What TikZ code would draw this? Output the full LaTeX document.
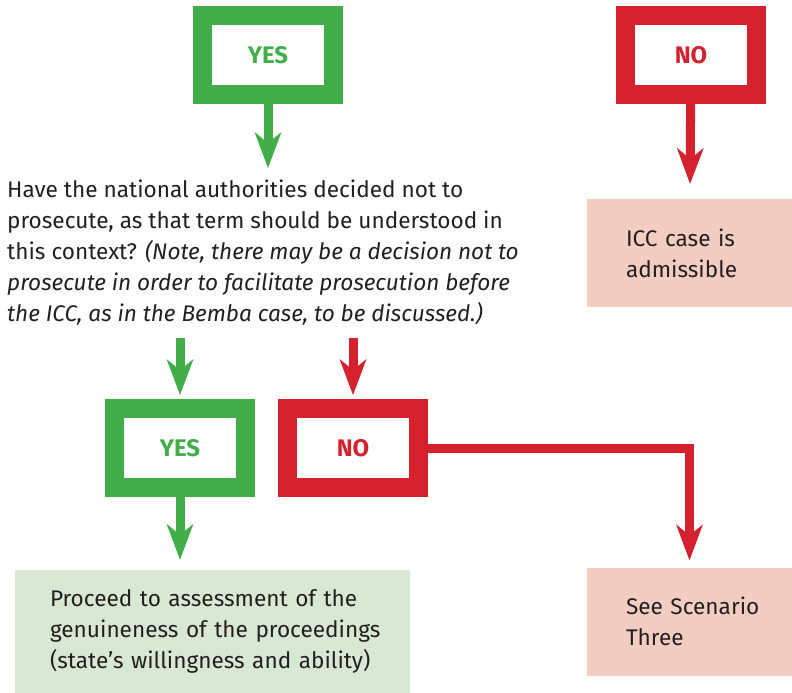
\documentclass[tikz,border=0pt]{standalone}
\usepackage{fontspec}
\setmainfont{Fira Sans}
\usetikzlibrary{arrows.meta, positioning}

\definecolor{yesgreen}{RGB}{65,174,73}
\definecolor{nored}{RGB}{213,33,46}
\definecolor{pinkbox}{RGB}{243,205,193}
\definecolor{palegreen}{RGB}{217,232,212}
\definecolor{textgray}{RGB}{35,31,32}

\begin{document}
\begin{tikzpicture}[
    x=1pt, y=-1pt,
    every node/.style={font=\fontsize{22.6}{31}\selectfont, text=textgray},
    yesbox/.style={rectangle, draw=yesgreen, fill=white, line width=19pt, minimum width=131pt, minimum height=79pt, outer sep=9.5pt, inner sep=0pt, text=yesgreen, font=\bfseries\fontsize{24}{26}\selectfont},
    nobox/.style={yesbox, draw=nored, text=nored},
    question/.style={anchor=north west, inner xsep=0pt, inner ysep=12pt, align=left},
    result/.style={rectangle, fill=pinkbox, minimum width=205pt, minimum height=108pt, inner xsep=39pt, text width=127pt, align=left},
    proceed/.style={rectangle, fill=palegreen, minimum width=395pt, minimum height=123pt, inner xsep=35pt, text width=325pt, align=left},
    yesarrow/.style={draw=yesgreen, line width=9pt, -{Stealth[length=36pt, width=27pt, inset=11pt, line width=0pt]}},
    noarrow/.style={yesarrow, draw=nored}
]
\useasboundingbox (0,0) rectangle (792,693);

% ---------- nodes ----------
% top row
\node[yesbox] (yes1) at (268,55) {YES};
\node[nobox] (no1) at (691,55) {NO};

% question and first result
\node[question] (q) at (7,168) {Have the national authorities decided not to\\
    prosecute, as that term should be understood in\\
    this context? \textit{(Note, there may be a decision not to}\\
    \textit{prosecute in order to facilitate prosecution before}\\
    \textit{the ICC, as in the Bemba case, to be discussed.)}};
\node[result] (icc) at (689.5,253) {\mbox{ICC case is}\\\mbox{admissible}};

% second row
\node[yesbox] (yes2) at (180,448) {YES};
\node[nobox, right=23pt of yes2] (no2) {NO};

% bottom row
\node[proceed] (proc) at (212.5,631.5) {\mbox{Proceed to assessment of the}\\
    \mbox{genuineness of the proceedings}\\
    \mbox{(state’s willingness and ability)}};
\node[result] (scen) at (689.5,621.5) {\mbox{See Scenario}\\\mbox{Three}};

% ---------- arrows ----------
\draw[yesarrow] (yes1) -- (yes1 |- q.north);
\draw[noarrow, shorten >=15pt] (no1) -- (icc);

\draw[yesarrow, shorten >=4pt] (q.south -| yes2) -- (yes2);
\draw[noarrow, shorten >=4pt] (q.south -| no2) -- (no2);

\draw[yesarrow, shorten >=10pt] (yes2) -- (yes2 |- proc.north);
\draw[noarrow, shorten >=7pt] (no2.east) -| (scen);

\end{tikzpicture}
\end{document}
